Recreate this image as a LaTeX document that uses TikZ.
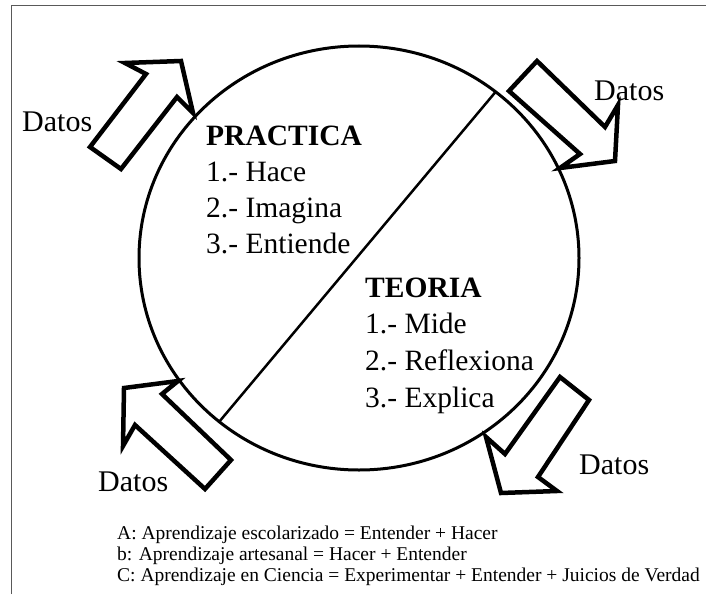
\documentclass[tikz,border=0pt]{standalone}
\usepackage{fontspec}
\setmainfont{Liberation Serif}
\begin{document}
\begin{tikzpicture}[x=1pt,y=-1pt,
  blockarrow/.style={draw=black, line width=4.5pt, line join=miter},
  bigtext/.style={font=\fontsize{29.5}{36}\selectfont, anchor=base west, inner sep=0pt},
  datos/.style={font=\fontsize{30}{36}\selectfont, anchor=base west, inner sep=0pt},
  legend/.style={font=\fontsize{19.5}{22}\selectfont, anchor=base west, inner sep=0pt}]
\useasboundingbox (0,0) rectangle (706,594);
% frame
\draw[black!65, line width=1.5pt] (11.5,594) -- (11.5,5.5) -- (706,5.5);
% circle
\draw[line width=3pt] (359,258) ellipse [x radius=220pt, y radius=212pt];
\coordinate (dtop) at (495.5,92);
\coordinate (dbot) at (219,422);
\draw[line width=2.5pt] (dtop) -- (dbot);
% block arrows
\draw[blockarrow] (181,61) -- (193,113) -- (177,97) -- (121,169) -- (90,147) -- (146,74) -- (125,63) -- cycle;
\draw[blockarrow] (537,61) -- (605,127) -- (618,105) -- (615,161) -- (560,168) -- (580,154) -- (509,91) -- cycle;
\draw[blockarrow] (124,388) -- (178,381) -- (162,394) -- (231,460) -- (205,489) -- (135,425) -- (123,446) -- cycle;
\draw[blockarrow] (560,377) -- (589,400) -- (538,477) -- (557,491) -- (501,493) -- (486,437) -- (505,454) -- cycle;
% texts
\node[bigtext] (p0) at (206,145) {\textbf{PRACTICA}};
\node[bigtext] (p1) at (206,181) {1.- Hace};
\node[bigtext] (p2) at (206,217) {2.- Imagina};
\node[bigtext] (p3) at (206,253) {3.- Entiende};
\node[bigtext] (t0) at (365,297) {\textbf{TEORIA}};
\node[bigtext] (t1) at (365,333) {1.- Mide};
\node[bigtext] (t2) at (365,370) {2.- Reflexiona};
\node[bigtext] (t3) at (365,407) {3.- Explica};
\node[datos] (d1) at (22,131) {Datos};
\node[datos] (d2) at (594,100) {Datos};
\node[datos] (d3) at (98,491) {Datos};
\node[datos] (d4) at (579,474) {Datos};
\node[legend] (l1) at (117,539) {A: Aprendizaje escolarizado = Entender + Hacer};
\node[legend] (l2) at (117,560) {b: Aprendizaje artesanal = Hacer + Entender};
\node[legend] (l3) at (117,581) {C: Aprendizaje en Ciencia = Experimentar + Entender + Juicios de Verdad};
\end{tikzpicture}
\end{document}
